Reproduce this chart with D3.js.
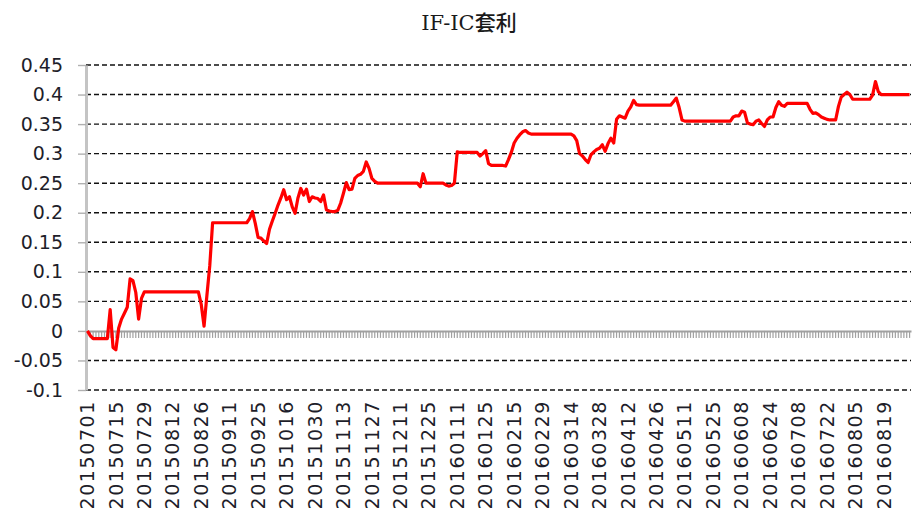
<!DOCTYPE html>
<html>
<head>
<meta charset="utf-8">
<script src="https://cdn.jsdelivr.net/npm/d3@7/dist/d3.min.js"></script>
<style>
  body { margin: 0; background: #fff; }
  .chart text { font-family: "DejaVu Sans", sans-serif; fill: #1e1e2a; }
</style>
</head>
<body>
<svg class="chart" width="924" height="516"></svg>
<script>
var title = "IF-IC套利";

// one value per trading day, 20150701 ...
var values = [
  0, -0.008, -0.013, -0.013, -0.013, -0.013, -0.013, -0.013, 0.036, -0.028,
  -0.032, 0.005, 0.02, 0.03, 0.04, 0.088, 0.085, 0.065, 0.02, 0.055,
  0.066, 0.066, 0.066, 0.066, 0.066, 0.066, 0.066, 0.066, 0.066, 0.066,
  0.066, 0.066, 0.066, 0.066, 0.066, 0.066, 0.066, 0.066, 0.066, 0.066,
  0.045, 0.008, 0.06, 0.11, 0.183, 0.183, 0.183, 0.183, 0.183, 0.183,
  0.183, 0.183, 0.183, 0.183, 0.183, 0.183, 0.183, 0.19, 0.202, 0.182,
  0.158, 0.157, 0.152, 0.148, 0.172, 0.186, 0.199, 0.213, 0.225, 0.239,
  0.222, 0.227, 0.21, 0.199, 0.225, 0.241, 0.23, 0.24, 0.219, 0.227,
  0.225, 0.224, 0.219, 0.23, 0.205, 0.203, 0.202, 0.202, 0.204, 0.216,
  0.233, 0.251, 0.239, 0.24, 0.258, 0.263, 0.265, 0.27, 0.286, 0.275,
  0.258, 0.253, 0.25, 0.25, 0.25, 0.25, 0.25, 0.25, 0.25, 0.25,
  0.25, 0.25, 0.25, 0.25, 0.25, 0.25, 0.25, 0.244, 0.266, 0.25,
  0.25, 0.25, 0.25, 0.25, 0.25, 0.25, 0.247, 0.245, 0.246, 0.25,
  0.303, 0.302, 0.302, 0.302, 0.302, 0.302, 0.302, 0.302, 0.296, 0.3,
  0.305, 0.283, 0.28, 0.28, 0.28, 0.28, 0.28, 0.279, 0.29, 0.302,
  0.318, 0.326, 0.332, 0.337, 0.339, 0.335, 0.333, 0.333, 0.333, 0.333,
  0.333, 0.333, 0.333, 0.333, 0.333, 0.333, 0.333, 0.333, 0.333, 0.333,
  0.333, 0.33, 0.322, 0.3, 0.296, 0.29, 0.285, 0.298, 0.303, 0.307,
  0.309, 0.315, 0.304, 0.317, 0.326, 0.318, 0.358, 0.364, 0.362, 0.36,
  0.372, 0.379, 0.39, 0.383, 0.382, 0.382, 0.382, 0.382, 0.382, 0.382,
  0.382, 0.382, 0.382, 0.382, 0.382, 0.382, 0.388, 0.394, 0.378, 0.357,
  0.355, 0.355, 0.355, 0.355, 0.355, 0.355, 0.355, 0.355, 0.355, 0.355,
  0.355, 0.355, 0.355, 0.355, 0.355, 0.355, 0.355, 0.362, 0.364, 0.364,
  0.372, 0.37, 0.352, 0.35, 0.349, 0.355, 0.357, 0.351, 0.346, 0.357,
  0.362, 0.362, 0.378, 0.388, 0.382, 0.38, 0.385, 0.385, 0.385, 0.385,
  0.385, 0.385, 0.385, 0.385, 0.375, 0.368, 0.369, 0.366, 0.362, 0.36,
  0.358, 0.357, 0.357, 0.357, 0.38, 0.396, 0.4, 0.404, 0.4, 0.392,
  0.392, 0.392, 0.392, 0.392, 0.392, 0.392, 0.399, 0.422, 0.405, 0.4,
  0.4, 0.4, 0.4, 0.4, 0.4, 0.4, 0.4, 0.4, 0.4, 0.4
];

// a label on every 10th trading day
var tickLabels = [
  "20150701", "20150715", "20150729", "20150812", "20150826", "20150911",
  "20150925", "20151016", "20151030", "20151113", "20151127", "20151211",
  "20151225", "20160111", "20160125", "20160215", "20160229", "20160314",
  "20160328", "20160412", "20160426", "20160511", "20160525", "20160608",
  "20160624", "20160708", "20160722", "20160805", "20160819"
];

var yTicks = [-0.1, -0.05, 0, 0.05, 0.1, 0.15, 0.2, 0.25, 0.3, 0.35, 0.4, 0.45];

(function() {
  var svg = d3.select(".chart");
  var left = 86, right = 911, top = 65, bottom = 390;

  var xScale = d3.scaleBand()
    .domain(d3.range(values.length))
    .range([left, right])
    .padding(0);

  var yScale = d3.scaleLinear()
    .domain([-0.1, 0.45])
    .range([bottom, top]);

  var half = xScale.bandwidth() / 2;

  // title
  svg.append("text")
    .attr("x", 469)
    .attr("y", 30)
    .attr("text-anchor", "middle")
    .style("font-family", "'DejaVu Serif', 'Noto Sans CJK SC', serif")
    .style("font-size", "21px")
    .style("font-weight", "500")
    .style("fill", "#1a1a1a")
    .text(title);

  // dashed gridlines
  svg.append("g")
    .selectAll("line")
    .data(yTicks.filter(function(d) { return d !== 0; }))
    .enter().append("line")
    .attr("x1", left)
    .attr("x2", right)
    .attr("y1", function(d) { return yScale(d); })
    .attr("y2", function(d) { return yScale(d); })
    .attr("stroke", "#111")
    .attr("stroke-width", 1.4)
    .attr("stroke-dasharray", "5,3");

  // category axis sitting on zero
  var catAxis = svg.append("g")
    .attr("transform", "translate(0," + yScale(0) + ")")
    .call(d3.axisBottom(xScale)
      .tickValues(d3.range(values.length))
      .tickSize(7)
      .tickSizeOuter(0)
      .tickFormat(""));
  catAxis.select(".domain").attr("stroke", "#a0a0a0").attr("stroke-width", 2);
  catAxis.selectAll(".tick line").attr("stroke", "#a0a0a0").attr("stroke-width", 1.2);

  // y axis
  var yAxis = svg.append("g")
    .attr("transform", "translate(" + left + ",0)")
    .call(d3.axisLeft(yScale)
      .tickValues(yTicks)
      .tickSize(8)
      .tickSizeOuter(0)
      .tickPadding(15)
      .tickFormat(function(d) { return String(d); }));
  yAxis.select(".domain").attr("stroke", "#c4c4c4").attr("stroke-width", 3);
  yAxis.selectAll(".tick line").attr("stroke", "#b0b0b0").attr("stroke-width", 1.4);
  yAxis.selectAll("text")
    .attr("font-family", null)
    .style("font-size", "19px");

  // date labels, rotated
  var xAxis = svg.append("g")
    .attr("transform", "translate(0,400)")
    .call(d3.axisBottom(xScale)
      .tickValues(d3.range(0, values.length, 10))
      .tickSize(0)
      .tickFormat(function(d) { return tickLabels[d / 10]; }));
  xAxis.select(".domain").remove();
  xAxis.selectAll("text")
    .attr("transform", "rotate(-90)")
    .attr("x", 0)
    .attr("y", 0)
    .attr("dy", "0.35em")
    .style("text-anchor", "end")
    .style("font-size", "19px")
    .style("letter-spacing", "1.6px");

  // the spread line
  var line = d3.line()
    .x(function(d, i) { return xScale(i) + half; })
    .y(function(d) { return yScale(d); });

  svg.append("path")
    .datum(values)
    .attr("fill", "none")
    .attr("stroke", "#ff0000")
    .attr("stroke-width", 3.2)
    .attr("stroke-linejoin", "round")
    .attr("d", line);
})();
</script>
</body>
</html>
